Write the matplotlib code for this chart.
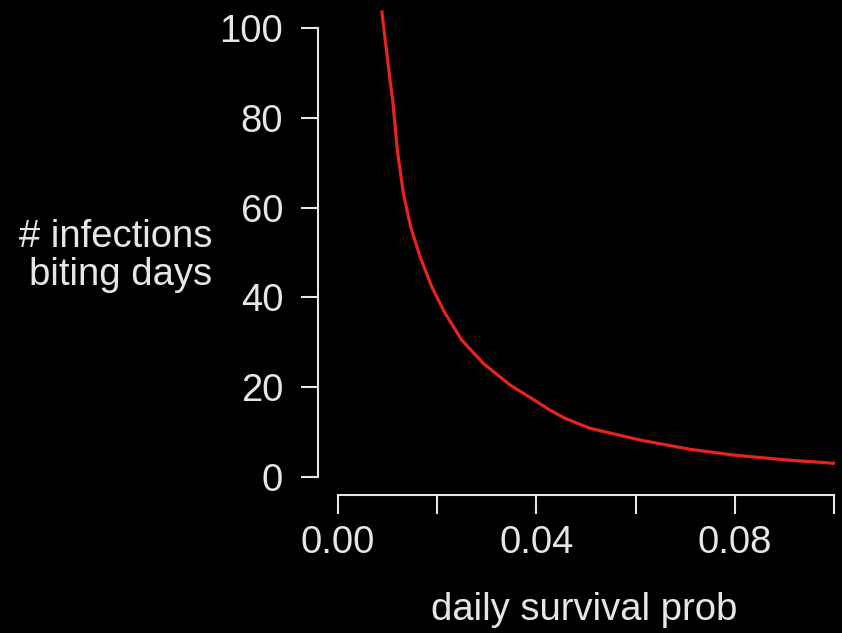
import matplotlib
matplotlib.use("Agg")
import matplotlib.pyplot as plt

# values
survival_prob = [0.00881, 0.01048, 0.01102, 0.01196, 0.01317, 0.01465, 0.01653,
                 0.01889, 0.02157, 0.02494, 0.0293, 0.03468, 0.04006, 0.04274,
                 0.04577, 0.0508, 0.0609, 0.07097, 0.0797, 0.0905, 0.1002]
infections_per_day = [103.9, 88.4, 84.0, 72.8, 63.2, 55.7, 49.1,
                      42.4, 36.5, 30.5, 25.3, 20.5, 16.8, 14.9,
                      13.07, 10.85, 8.24, 6.17, 4.9, 3.79, 3.05]

x_ticks = [0.00, 0.02, 0.04, 0.06, 0.08, 0.10]
x_ticklabels = ["0.00", "", "0.04", "", "0.08", ""]
y_ticks = [0, 20, 40, 60, 80, 100]

fg = "#e6e6e6"
fs = 27.5
plt.rcParams['font.family'] = ['Liberation Sans', 'DejaVu Sans']

fig = plt.figure(figsize=(8.42, 6.33), dpi=100, facecolor="black")
ax = fig.add_axes([318.2 / 842, 1 - 495 / 633, 535.6 / 842, 485 / 633])
ax.set_facecolor("black")

ax.plot(survival_prob, infections_per_day, color="#e8231b", lw=2.3,
        solid_capstyle="butt", solid_joinstyle="round")

ax.set_xlim(-0.004, 0.104)
ax.set_ylim(-4, 104)

for side in ("top", "right"):
    ax.spines[side].set_visible(False)
for side in ("left", "bottom"):
    ax.spines[side].set_color(fg)
    ax.spines[side].set_linewidth(1.5)
ax.spines["left"].set_bounds(0, 100)
ax.spines["bottom"].set_bounds(0, 0.1)

ax.set_xticks(x_ticks)
ax.set_xticklabels(x_ticklabels)
ax.set_yticks(y_ticks)
ax.tick_params(axis="y", direction="out", length=12.2, width=1.5, color=fg,
               labelcolor=fg, labelsize=fs, pad=13)
ax.tick_params(axis="x", direction="out", length=13.7, width=1.5, color=fg,
               labelcolor=fg, labelsize=fs, pad=8)

fig.text(212 / 842, 1 - 256 / 633, "# infections\nbiting days", color=fg,
         fontsize=fs, ha="right", va="center", multialignment="right",
         linespacing=1.1)
fig.text(584 / 842, 1 - 610 / 633, "daily survival prob", color=fg,
         fontsize=fs, ha="center", va="center")

fig.savefig("out.png", dpi=100, facecolor="black")
